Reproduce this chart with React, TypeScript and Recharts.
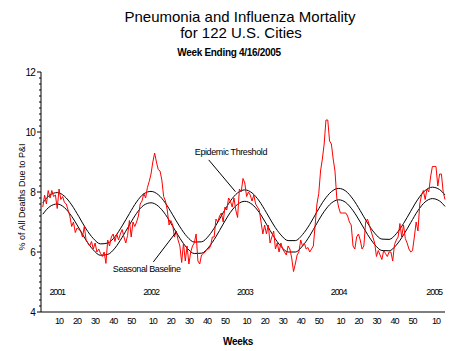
import { LineChart, Line, XAxis, YAxis, ReferenceLine, ReferenceDot } from 'recharts';

// weekly P&I % (one array per MMWR year; 2004 has 53 weeks)
const pi2001 = [
  7.5, 7.9, 7.6, 8.05, 7.8, 8.05, 7.85, 7.9, 7.45, 8.1,
  7.75, 7.85, 7.65, 7.6, 7.4, 7.2, 6.85, 7.0, 6.65, 6.8,
  6.75, 6.7, 6.5, 6.85, 6.4, 6.3, 6.2, 6.35, 6.1, 6.3,
  6.0, 6.1, 5.95, 5.85, 6.0, 5.62, 6.4, 6.2, 6.5, 6.6,
  6.35, 6.6, 6.4, 6.6, 6.75, 6.5, 6.3, 6.55, 7.05, 6.5,
  7.0, 6.85,
];
const pi2002 = [
  7.0, 7.2, 7.6, 7.7, 7.95, 7.8, 8.15, 8.35, 8.6, 9.0,
  9.3, 9.0, 8.75, 8.7, 8.4, 7.85, 7.7, 7.4, 6.9, 7.05,
  6.9, 6.5, 6.7, 6.4, 6.2, 5.65, 6.3, 5.7, 6.2, 5.6,
  6.0, 6.2, 6.3, 6.6, 5.7, 5.6, 5.9, 5.95, 6.0, 6.1,
  6.1, 6.2, 6.5, 6.5, 7.1, 7.0, 7.2, 7.3, 7.0, 7.5,
  7.4, 7.8,
];
const pi2003 = [
  7.7, 7.5, 7.8, 7.4, 7.15, 8.1, 8.0, 8.45, 8.3, 7.85,
  8.0, 7.9, 7.7, 7.9, 7.6, 7.5, 7.4, 7.0, 6.6, 6.9,
  6.6, 6.9, 6.3, 6.5, 6.7, 6.1, 6.3, 6.0, 6.3, 6.1,
  6.0, 5.9, 6.2, 6.1, 5.8, 5.35, 5.6, 5.9, 6.0, 6.4,
  6.2, 6.3, 6.1, 6.15, 6.0, 6.1, 6.2, 6.9, 7.6, 7.95,
  8.7, 9.1,
];
const pi2004 = [
  9.6, 10.4, 10.4, 9.7, 9.6, 9.1, 8.7, 7.8, 7.5, 7.3,
  7.3, 7.3, 7.3, 7.2, 7.0, 6.9, 6.2, 6.1, 6.5, 6.6,
  6.4, 6.1, 6.2, 7.0, 7.1, 6.9, 6.7, 6.5, 6.3, 5.85,
  6.05, 5.9, 5.75, 6.05, 5.95, 5.85, 6.0, 6.0, 5.7, 6.25,
  6.4, 6.5, 6.95, 6.5, 6.9, 6.45, 6.3, 6.1, 6.0, 6.05,
  6.5, 7.0, 6.7,
];
const pi2005 = [7.6, 7.9, 8.05, 7.75, 8.1, 8.0, 8.5, 8.85, 8.85, 8.85, 8.2, 8.6, 8.6, 8.0, 7.75];

const years = ['2001', '2002', '2003', '2004', '2005'];
const yearStarts = [0, 52, 104, 156, 209];
const lastWeek = 223;

// baseline / threshold read every 4 weeks
const curveWeeks = [
  0, 4, 8, 12, 16, 20, 24, 28, 32, 36, 40, 44, 48, 52, 56, 60, 64, 68, 72, 76,
  80, 84, 88, 92, 96, 100, 104, 108, 112, 116, 120, 124, 128, 132, 136, 140, 144, 148, 152, 156,
  160, 164, 168, 172, 176, 180, 184, 188, 192, 196, 200, 204, 208, 212, 216, 220, 223,
];
const baseline = [
  7.26, 7.52, 7.6, 7.48, 7.19, 6.8, 6.39, 6.07, 5.89, 5.92,
  6.13, 6.49, 6.9, 7.29, 7.56, 7.64, 7.53, 7.25, 6.86, 6.46,
  6.13, 5.95, 5.96, 6.16, 6.51, 6.93, 7.32, 7.59, 7.69, 7.59,
  7.32, 6.93, 6.52, 6.19, 6.0, 6.0, 6.2, 6.54, 6.96, 7.35,
  7.63, 7.74, 7.65, 7.38, 7.0, 6.59, 6.25, 6.05, 6.04, 6.23,
  6.57, 6.98, 7.38, 7.67, 7.78, 7.7, 7.52,
];
const threshold = [
  7.64, 7.9, 7.98, 7.86, 7.57, 7.18, 6.77, 6.45, 6.27, 6.3,
  6.51, 6.87, 7.28, 7.67, 7.94, 8.02, 7.91, 7.63, 7.24, 6.84,
  6.51, 6.33, 6.34, 6.54, 6.89, 7.31, 7.7, 7.97, 8.07, 7.97,
  7.7, 7.31, 6.9, 6.57, 6.38, 6.38, 6.58, 6.92, 7.34, 7.73,
  8.01, 8.12, 8.03, 7.76, 7.38, 6.97, 6.63, 6.43, 6.42, 6.61,
  6.95, 7.36, 7.76, 8.05, 8.16, 8.08, 7.9,
];

const weekTickLabels = ['10', '20', '30', '40', '50'];
const yMajorTicks = [4, 6, 8, 10, 12];

const rows = [pi2001, pi2002, pi2003, pi2004, pi2005].flatMap((arr, yi) =>
  arr.map((v, k) => ({ w: yearStarts[yi] + k, pi: v }))
);
const baselineRows = curveWeeks.map((w, k) => ({ w, v: baseline[k] }));
const thresholdRows = curveWeeks.map((w, k) => ({ w, v: threshold[k] }));

const xTicks = yearStarts
  .flatMap((s) => weekTickLabels.map((l) => s + Number(l) - 1))
  .filter((t) => t <= lastWeek);

const yTicks = Array.from({ length: 41 }, (_, k) => Math.round((4 + k * 0.2) * 10) / 10);

const weekOf = (t: number) => {
  let s = 0;
  yearStarts.forEach((ys) => {
    if (ys <= t) s = ys;
  });
  return String(t - s + 1);
};

const font = '"Liberation Sans", Arial, sans-serif';

function YTick({ x, y, payload }: any) {
  const v = payload.value;
  const major = yMajorTicks.includes(v);
  return (
    <g>
      <line x1={x - (major ? 4 : 2)} x2={x} y1={y} y2={y} stroke="#000" />
      {major && (
        <text x={x - 6} y={y} textAnchor="end" dominantBaseline="central" fontSize={10} fontFamily={font} letterSpacing={-0.8} fill="#000">
          {v}
        </text>
      )}
    </g>
  );
}

export default function App() {
  return (
    <div style={{ position: 'absolute', left: 0, top: 0, width: 468, height: 351, background: '#fff', fontFamily: font }}>
      <LineChart width={468} height={351} data={rows} margin={{ top: 72, right: 23, bottom: 19, left: 11 }}>
        <XAxis
          type="number"
          dataKey="w"
          domain={[-1, lastWeek]}
          ticks={xTicks}
          interval={0}
          tickFormatter={weekOf}
          tickLine={false}
          tickSize={0}
          tickMargin={6}
          height={20}
          axisLine={{ stroke: '#000' }}
          tick={{ fontSize: 9, fill: '#000', fontFamily: font, letterSpacing: -1 }}
        />
        <YAxis
          type="number"
          domain={[4, 12]}
          ticks={yTicks}
          interval={0}
          tickLine={false}
          tickSize={0}
          tickMargin={0}
          width={30}
          axisLine={{ stroke: '#000' }}
          tick={(p: any) => <YTick {...p} />}
        />
        <Line data={thresholdRows} dataKey="v" type="monotone" stroke="#000" strokeWidth={1} dot={false} activeDot={false} isAnimationActive={false} />
        <Line data={baselineRows} dataKey="v" type="monotone" stroke="#000" strokeWidth={1} dot={false} activeDot={false} isAnimationActive={false} />
        <Line dataKey="pi" type="linear" stroke="#ff0000" strokeWidth={1} dot={false} activeDot={false} isAnimationActive={false} />

        {/* leader lines */}
        <ReferenceLine segment={[{ x: 92, y: 9.07 }, { x: 106.8, y: 8.01 }]} stroke="#000" ifOverflow="visible" />
        <ReferenceLine segment={[{ x: 61.3, y: 5.67 }, { x: 74, y: 6.67 }]} stroke="#000" ifOverflow="visible" />
        <ReferenceDot x={104.3} y={9.33} r={1} fill="none" stroke="none" ifOverflow="visible"
          label={{ value: 'Epidemic Threshold', position: 'center', fontSize: 9, fill: '#000', fontFamily: font, letterSpacing: -0.4 }} />
        <ReferenceDot x={57.6} y={5.43} r={1} fill="none" stroke="none" ifOverflow="visible"
          label={{ value: 'Seasonal Baseline', position: 'center', fontSize: 9, fill: '#000', fontFamily: font, letterSpacing: -0.4 }} />

        {years.map((yr, yi) => (
          <ReferenceDot key={yr} x={yearStarts[yi] + 8} y={4.67} r={1} fill="none" stroke="none" ifOverflow="visible"
            label={{ value: yr, position: 'center', fontSize: 9, fill: '#000', fontFamily: font, letterSpacing: -1.1 }} />
        ))}
      </LineChart>
      <svg width={468} height={351} style={{ position: 'absolute', left: 0, top: 0, pointerEvents: 'none' }} fontFamily={font}>
        <text x={240} y={22} textAnchor="middle" fontSize={15}>Pneumonia and Influenza Mortality</text>
        <text x={241} y={38} textAnchor="middle" fontSize={15}>for 122 U.S. Cities</text>
        <text x={229} y={56} textAnchor="middle" fontSize={10} fontWeight="bold" letterSpacing={-0.3}>Week Ending 4/16/2005</text>
        <text x={238} y={345} textAnchor="middle" fontSize={10} fontWeight="bold" letterSpacing={-0.3}>Weeks</text>
        <text x={22} y={197} transform="rotate(-90, 22, 197)" textAnchor="middle" dominantBaseline="central" fontSize={9}>
          % of All Deaths Due to P&amp;I
        </text>
      </svg>
    </div>
  );
}
